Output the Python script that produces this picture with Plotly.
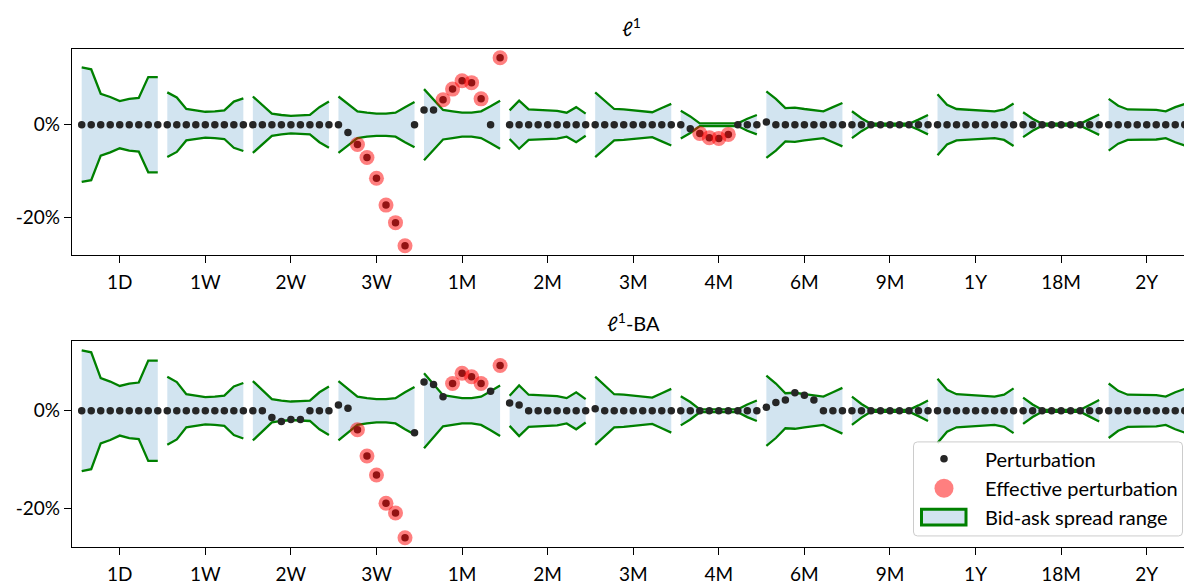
import plotly.graph_objects as go

# ---------------- data (values in %) ----------------
tenors = ["1D", "1W", "2W", "3W", "1M", "2M", "3M", "4M", "6M", "9M", "1Y", "18M", "2Y"]
n_strikes = 9

# half-width of the bid-ask spread range per tenor / strike (band is +/- this)
spread_1D = [12.4, 12.0, 6.7, 6.0, 5.1, 5.6, 5.8, 10.3, 10.3]
spread_1W = [7.0, 5.9, 3.4, 3.1, 2.8, 2.9, 3.1, 5.0, 5.7]
spread_2W = [6.1, 4.3, 2.4, 2.1, 1.9, 2.0, 2.1, 3.8, 5.0]
spread_3W = [6.1, 4.5, 2.9, 2.6, 2.4, 2.4, 2.6, 3.8, 4.9]
spread_1M = [7.7, 5.4, 3.2, 2.9, 2.6, 2.6, 2.9, 4.0, 5.2]
spread_2M = [3.1, 5.2, 3.3, 3.2, 3.1, 3.0, 2.6, 3.8, 2.4]
spread_3M = [7.0, 5.3, 3.4, 3.3, 3.1, 3.0, 2.7, 3.6, 4.5]
spread_4M = [3.0, 1.8, 0.3, 0.3, 0.3, 0.3, 0.3, 1.3, 2.1]
spread_6M = [7.2, 5.6, 3.6, 3.7, 3.4, 3.2, 2.9, 3.8, 4.7]
spread_9M = [2.9, 1.4, 0.2, 0.2, 0.2, 0.2, 0.2, 1.1, 2.1]
spread_1Y = [6.6, 4.3, 3.4, 3.3, 3.2, 3.1, 2.9, 3.3, 4.6]
spread_18M = [2.7, 1.3, 0.2, 0.2, 0.2, 0.2, 0.2, 1.2, 2.2]
spread_2Y = [5.6, 4.1, 3.3, 3.3, 3.3, 3.2, 2.9, 3.8, 4.5]
spreads = [spread_1D, spread_1W, spread_2W, spread_3W, spread_1M, spread_2M, spread_3M,
           spread_4M, spread_6M, spread_9M, spread_1Y, spread_18M, spread_2Y]

# perturbation, l1 problem
pert_l1 = [
    [0, 0, 0, 0, 0, 0, 0, 0, 0],                      # 1D
    [0, 0, 0, 0, 0, 0, 0, 0, 0],                      # 1W
    [0, 0, 0, 0, 0, 0, 0, 0, 0],                      # 2W
    [0, -1.7, -4.3, -7.1, -11.6, -17.4, -21.2, -26.2, 0],  # 3W
    [3.2, 3.2, 5.4, 7.7, 9.5, 9.1, 5.6, 0, 14.5],     # 1M
    [0, 0, 0, 0, 0, 0, 0, 0, 0],                      # 2M
    [0, 0, 0, 0, 0, 0, 0, 0, 0],                      # 3M
    [0, -0.9, -1.9, -2.8, -3.0, -2.1, 0, 0, 0],       # 4M
    [0.6, 0, 0, 0, 0, 0, 0, 0, 0],                    # 6M
    [0, 0, 0, 0, 0, 0, 0, 0, 0],                      # 9M
    [0, 0, 0, 0, 0, 0, 0, 0, 0],                      # 1Y
    [0, 0, 0, 0, 0, 0, 0, 0, 0],                      # 18M
    [0, 0, 0, 0, 0, 0, 0, 0, 0],                      # 2Y
]
# 1 = effective (outside the bid-ask range)
eff_l1 = [
    [0] * 9, [0] * 9, [0] * 9,
    [0, 0, 1, 1, 1, 1, 1, 1, 0],
    [0, 0, 1, 1, 1, 1, 1, 0, 1],
    [0] * 9, [0] * 9,
    [0, 0, 1, 1, 1, 1, 0, 0, 0],
    [0] * 9, [0] * 9, [0] * 9, [0] * 9, [0] * 9,
]

# perturbation, l1-BA problem
pert_l1ba = [
    [0, 0, 0, 0, 0, 0, 0, 0, 0],                      # 1D
    [0, 0, 0, 0, 0, 0, 0, 0, 0],                      # 1W
    [0, 0, -1.4, -2.2, -1.8, -1.8, 0, 0, 0],          # 2W
    [1.2, 0.5, -3.9, -9.3, -13.2, -19.0, -21.0, -26.1, -4.5],  # 3W
    [5.9, 5.4, 2.9, 5.6, 7.7, 7.0, 5.6, 4.0, 9.3],    # 1M
    [1.6, 1.2, 0, 0, 0, 0, 0, 0, 0],                  # 2M
    [0.4, 0, 0, 0, 0, 0, 0, 0, 0],                    # 3M
    [0, 0, 0, 0, 0, 0, 0, 0, 0],                      # 4M
    [0.7, 1.7, 2.2, 3.7, 3.2, 2.2, 0, 0, 0],          # 6M
    [0, 0, 0, 0, 0, 0, 0, 0, 0],                      # 9M
    [0, 0, 0, 0, 0, 0, 0, 0, 0],                      # 1Y
    [0, 0, 0, 0, 0, 0, 0, 0, 0],                      # 18M
    [0, 0, 0, 0, 0, 0, 0, 0, 0],                      # 2Y
]
eff_l1ba = [
    [0] * 9, [0] * 9, [0] * 9,
    [0, 0, 1, 1, 1, 1, 1, 1, 0],
    [0, 0, 0, 1, 1, 1, 1, 0, 1],
    [0] * 9, [0] * 9, [0] * 9, [0] * 9, [0] * 9, [0] * 9, [0] * 9, [0] * 9,
]

panel_titles = ["ℓ<sup>1</sup>", "ℓ<sup>1</sup>-BA"]
ytick_vals = [-20, 0]
ytick_text = ["-20%", "0%"]
legend_labels = ["Perturbation", "Effective perturbation", "Bid-ask spread range"]

# ---------------- styling ----------------
FONT = "Lato"
FS = 19
FILL = "rgba(31,119,180,0.2)"
GREEN = "#008000"
DOT = "#262626"
RED = "rgba(255,0,0,0.5)"
W, H = 1184, 585

fig = go.Figure()


def add_panel(pert, eff, xa, ya):
    # bid-ask band fills
    for g, sp in enumerate(spreads):
        xs = [g * n_strikes + j for j in range(n_strikes)]
        fig.add_trace(go.Scatter(
            x=xs + xs[::-1], y=sp + [-v for v in sp[::-1]],
            fill="toself", fillcolor=FILL, mode="none",
            xaxis=xa, yaxis=ya, showlegend=False, hoverinfo="skip"))
    # band edges
    lx, ly = [], []
    for g, sp in enumerate(spreads):
        xs = [g * n_strikes + j for j in range(n_strikes)]
        lx += xs + [None] + xs + [None]
        ly += sp + [None] + [-v for v in sp] + [None]
    fig.add_trace(go.Scatter(x=lx, y=ly, mode="lines", line=dict(color=GREEN, width=2.3),
                             xaxis=xa, yaxis=ya, showlegend=False, hoverinfo="skip"))
    # perturbation dots
    px, py, ex, ey = [], [], [], []
    for g in range(len(tenors)):
        for j in range(n_strikes):
            i = g * n_strikes + j
            px.append(i)
            py.append(pert[g][j])
            if eff[g][j]:
                ex.append(i)
                ey.append(pert[g][j])
    fig.add_trace(go.Scatter(x=px, y=py, mode="markers",
                             marker=dict(color=DOT, size=7.5, line=dict(width=0)),
                             name=legend_labels[0], xaxis=xa, yaxis=ya, showlegend=False))
    fig.add_trace(go.Scatter(x=ex, y=ey, mode="markers",
                             marker=dict(color=RED, size=15, line=dict(width=0)),
                             name=legend_labels[1], xaxis=xa, yaxis=ya, showlegend=False))


add_panel(pert_l1, eff_l1, "x", "y")
add_panel(pert_l1ba, eff_l1ba, "x2", "y2")

xrange = [-1.02, 115.92]
top_dom = [1 - 257.3 / H, 1 - 49.3 / H]
bot_dom = [1 - 552.7 / H, 1 - 345.0 / H]

xcommon = dict(range=xrange, tickmode="array",
               tickvals=[g * n_strikes + 4 for g in range(len(tenors))], ticktext=tenors,
               ticks="outside", ticklen=7, tickwidth=1.3, tickcolor="black",
               showline=True, linecolor="black", linewidth=1.3, mirror=True,
               showgrid=False, zeroline=False, domain=[72 / W, 1],
               ticklabelstandoff=3,
               tickfont=dict(family=FONT, size=FS, color="black"))
ycommon = dict(tickmode="array", tickvals=ytick_vals, ticktext=ytick_text,
               ticks="outside", ticklen=7, tickwidth=1.3, tickcolor="black",
               showline=True, linecolor="black", linewidth=1.3, mirror=False,
               showgrid=False, zeroline=False,
               tickfont=dict(family=FONT, size=FS, color="black"))


# ---------------- manual legend (pixel layout -> paper coords) ----------------
def px_x(v):
    return v / W


def px_y(v):
    return 1 - v / H


shapes = []
annotations = []
# legend frame with rounded corners
L, R, T, B, r = 913.5, 1182.5, 446.5, 541.5, 4
path = (f"M {px_x(L + r)},{px_y(T)} L {px_x(R - r)},{px_y(T)} Q {px_x(R)},{px_y(T)} {px_x(R)},{px_y(T + r)} "
        f"L {px_x(R)},{px_y(B - r)} Q {px_x(R)},{px_y(B)} {px_x(R - r)},{px_y(B)} "
        f"L {px_x(L + r)},{px_y(B)} Q {px_x(L)},{px_y(B)} {px_x(L)},{px_y(B - r)} "
        f"L {px_x(L)},{px_y(T + r)} Q {px_x(L)},{px_y(T)} {px_x(L + r)},{px_y(T)} Z")
shapes.append(dict(type="path", path=path, xref="paper", yref="paper",
                   fillcolor="rgba(255,255,255,0.8)", line=dict(color="#cccccc", width=1),
                   layer="above"))
row_y = [463.5, 493.3, 522.7]
# row 1: black dot
shapes.append(dict(type="circle", xref="paper", yref="paper", xsizemode="pixel", ysizemode="pixel",
                   xanchor=px_x(944), yanchor=px_y(row_y[0]), x0=-3.8, x1=3.8, y0=-3.8, y1=3.8,
                   fillcolor=DOT, line=dict(width=0), layer="above"))
# row 2: red circle
shapes.append(dict(type="circle", xref="paper", yref="paper", xsizemode="pixel", ysizemode="pixel",
                   xanchor=px_x(944), yanchor=px_y(row_y[1]), x0=-9.5, x1=9.5, y0=-9.5, y1=9.5,
                   fillcolor=RED, line=dict(width=0), layer="above"))
# row 3: band patch
shapes.append(dict(type="rect", xref="paper", yref="paper",
                   x0=px_x(921.5), x1=px_x(966), y0=px_y(514.5), y1=px_y(530.5),
                   fillcolor="rgb(210,228,240)", line=dict(color=GREEN, width=3), layer="above"))
for lab, yy in zip(legend_labels, row_y):
    annotations.append(dict(text=lab, x=px_x(983), y=px_y(yy), xref="paper", yref="paper",
                            showarrow=False, xanchor="left", yanchor="middle",
                            font=dict(family=FONT, size=20, color="black")))

annotations += [
    dict(text=panel_titles[0], x=px_x(631), y=px_y(27), xref="paper", yref="paper",
         showarrow=False, xanchor="center", yanchor="middle",
         font=dict(family=FONT, size=FS + 1, color="black")),
    dict(text=panel_titles[1], x=px_x(633), y=px_y(325), xref="paper", yref="paper",
         showarrow=False, xanchor="center", yanchor="middle",
         font=dict(family=FONT, size=FS + 1, color="black")),
]

fig.update_layout(
    width=W, height=H,
    margin=dict(l=0, r=0, t=0, b=0),
    paper_bgcolor="white", plot_bgcolor="white",
    font=dict(family=FONT, size=FS, color="black"),
    xaxis=dict(**xcommon, anchor="y"),
    xaxis2=dict(**xcommon, anchor="y2"),
    yaxis=dict(**ycommon, domain=top_dom, range=[-28.13, 16.43], anchor="x"),
    yaxis2=dict(**ycommon, domain=bot_dom, range=[-28.0, 14.24], anchor="x2"),
    showlegend=False,
    shapes=shapes,
    annotations=annotations,
)

fig.write_html("out.html")
